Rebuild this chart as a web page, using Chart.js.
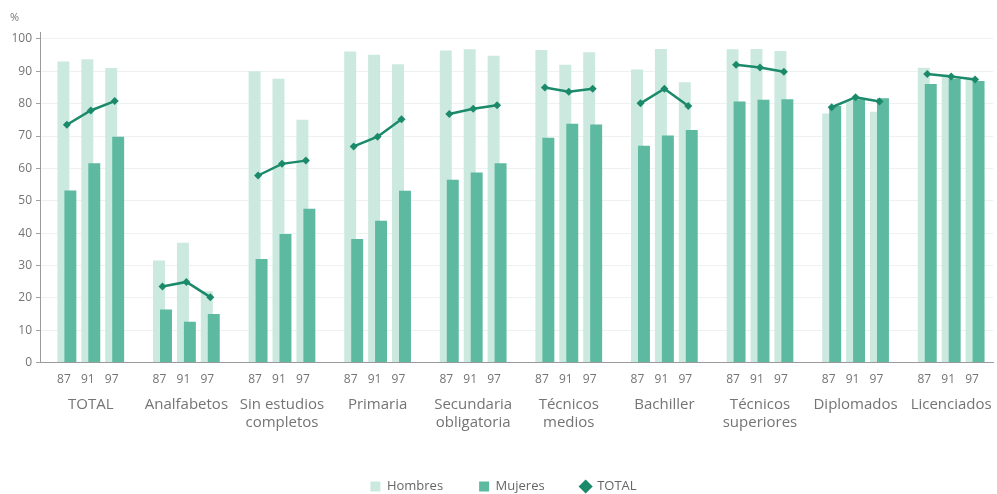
<!DOCTYPE html>
<html lang="es">
<head>
<meta charset="utf-8">
<title>Hombres, mujeres y total por nivel de estudios</title>
<script src="https://cdn.jsdelivr.net/npm/chart.js@4.4.1/dist/chart.umd.min.js"></script>
<style>
  html, body { margin: 0; padding: 0; background: #fff; }
  #wrap { width: 997px; height: 494px; }
</style>
</head>
<body>
<div id="wrap"><canvas id="chart"></canvas></div>
<script>
// categories (one entry per group, lines of the label) and survey years
const categories = [
  ["TOTAL"],
  ["Analfabetos"],
  ["Sin estudios", "completos"],
  ["Primaria"],
  ["Secundaria", "obligatoria"],
  ["Técnicos", "medios"],
  ["Bachiller"],
  ["Técnicos", "superiores"],
  ["Diplomados"],
  ["Licenciados"],
];
const years = ["87", "91", "97"];

// values in %, three per category (87, 91, 97)
const hombres = [
  93.0, 93.7, 91.0,
  31.5, 37.0, 22.0,
  90.0, 87.7, 75.0,
  96.1, 95.1, 92.2,
  96.4, 96.8, 94.8,
  96.6, 92.0, 95.9,
  90.6, 96.9, 86.6,
  96.8, 96.9, 96.3,
  77.0, 81.0, 77.5,
  91.1, 89.0, 88.0,
];
const mujeres = [
  53.2, 61.6, 69.8,
  16.4, 12.6, 15.0,
  32.0, 39.7, 47.5,
  38.2, 43.8, 53.1,
  56.5, 58.7, 61.6,
  69.5, 73.8, 73.6,
  67.0, 70.2, 71.9,
  80.7, 81.2, 81.4,
  79.3, 81.4, 81.7,
  86.1, 87.7, 87.0,
];
const total = [
  73.5, 77.9, 80.8,
  23.5, 24.9, 20.2,
  57.8, 61.4, 62.4,
  66.8, 69.8, 75.2,
  76.8, 78.4, 79.5,
  85.0, 83.7, 84.6,
  80.1, 84.6, 79.3,
  92.0, 91.2, 89.9,
  78.9, 82.0, 80.7,
  89.2, 88.4, 87.5,
];

const HOMBRES_COLOR = "#cbe9df";
const MUJERES_COLOR = "#5db9a0";
const TOTAL_COLOR = "#1b8a6b";
const TEXT_COLOR = "#747474";

// every category takes four slots on the x scale: a gap and three years
const slotOf = (c, k) => c * 4 + k + 1;
const X_MIN = -0.125;
const X_MAX = 39.75;
const BAR_SHIFT = 0.146; // hombres a bit left, mujeres a bit right

const yearAt = {};
const nameAt = {};
const yearSlots = [];
const nameSlots = [];
categories.forEach((name, c) => {
  years.forEach((yr, k) => {
    yearAt[slotOf(c, k)] = yr;
    yearSlots.push(slotOf(c, k));
  });
  nameAt[slotOf(c, 1)] = name;
  nameSlots.push(slotOf(c, 1));
});

const toPoints = (values) =>
  values.map((v, i) => ({ x: slotOf(Math.floor(i / 3), i % 3), y: v }));

// line points with a null after each group so the segments break
const totalPoints = [];
categories.forEach((_, c) => {
  years.forEach((_, k) => {
    totalPoints.push({ x: slotOf(c, k), y: total[c * 3 + k] });
  });
  totalPoints.push({ x: slotOf(c, 3), y: null });
});

const useSlotTicks = (slots) => (scale) => {
  scale.ticks = slots.map((v) => ({ value: v }));
};

// fixed height, and no extra side padding for the long labels
const fixBox = (height) => (scale) => {
  scale.height = height;
  scale.paddingLeft = 0;
  scale.paddingRight = 0;
};

function hiddenX(shift) {
  return {
    type: "linear",
    display: false,
    offset: false,
    min: X_MIN - shift,
    max: X_MAX - shift,
    afterBuildTicks: useSlotTicks(yearSlots),
  };
}

Chart.defaults.font.family = "'Open Sans', sans-serif";
Chart.defaults.color = TEXT_COLOR;

new Chart(document.getElementById("chart"), {
  type: "bar",
  data: {
    datasets: [
      {
        label: "Hombres",
        data: toPoints(hombres),
        xAxisID: "xh",
        backgroundColor: HOMBRES_COLOR,
        borderWidth: 0,
        grouped: false,
        categoryPercentage: 0.5,
        barPercentage: 1,
        pointStyle: "rect",
        order: 2,
      },
      {
        label: "Mujeres",
        data: toPoints(mujeres),
        xAxisID: "xm",
        backgroundColor: MUJERES_COLOR,
        borderWidth: 0,
        grouped: false,
        categoryPercentage: 0.5,
        barPercentage: 1,
        pointStyle: "rect",
        order: 1,
      },
      {
        type: "line",
        label: "TOTAL",
        data: totalPoints,
        xAxisID: "x",
        borderColor: TOTAL_COLOR,
        backgroundColor: TOTAL_COLOR,
        borderWidth: 2.5,
        pointStyle: "rectRot",
        pointRadius: 4,
        pointBackgroundColor: TOTAL_COLOR,
        pointBorderColor: TOTAL_COLOR,
        pointBorderWidth: 0,
        spanGaps: false,
        order: 0,
      },
    ],
  },
  options: {
    responsive: true,
    maintainAspectRatio: false,
    animation: false,
    layout: { padding: { left: 10, right: 0, top: 0, bottom: 0 } },
    scales: {
      x: {
        type: "linear",
        min: X_MIN,
        max: X_MAX,
        offset: false,
        weight: 0,
        grid: { display: false, drawTicks: false },
        border: { display: true, color: "#9a9a9a", width: 1 },
        ticks: {
          autoSkip: false,
          maxRotation: 0,
          padding: 10,
          labelOffset: -3,
          font: { size: 12 },
          color: TEXT_COLOR,
          callback: (v) => yearAt[v] ?? "",
        },
        afterBuildTicks: useSlotTicks(yearSlots),
        afterFit: fixBox(25),
      },
      xn: {
        type: "linear",
        position: "bottom",
        min: X_MIN,
        max: X_MAX,
        offset: false,
        weight: 1,
        grid: { display: false, drawTicks: false },
        border: { display: false },
        ticks: {
          autoSkip: false,
          maxRotation: 0,
          padding: 8,
          font: { size: 15, lineHeight: 1.2 },
          color: TEXT_COLOR,
          callback: (v) => nameAt[v] ?? "",
        },
        afterBuildTicks: useSlotTicks(nameSlots),
        afterFit: fixBox(56.5),
      },
      xh: hiddenX(-BAR_SHIFT),
      xm: hiddenX(BAR_SHIFT),
      y: {
        min: 0,
        max: 102,
        grid: { color: "#edf1ef", tickColor: "#a0a0a0", tickLength: 4 },
        border: { display: true, color: "#9a9a9a", width: 1 },
        ticks: {
          stepSize: 10,
          includeBounds: false,
          padding: 4,
          font: { size: 12 },
          color: TEXT_COLOR,
        },
        afterFit: (s) => { s.width = 30; },
      },
    },
    plugins: {
      title: {
        display: true,
        text: "%",
        align: "start",
        color: TEXT_COLOR,
        font: { size: 11, weight: "normal" },
        padding: { top: 11, bottom: 8.3 },
      },
      legend: {
        position: "bottom",
        maxHeight: 50,
        labels: {
          usePointStyle: true,
          boxWidth: 10,
          boxHeight: 10,
          padding: 36,
          color: "#666",
          font: { size: 13 },
          sort: (a, b) => a.datasetIndex - b.datasetIndex,
        },
      },
      tooltip: { enabled: false },
    },
  },
});
</script>
</body>
</html>
